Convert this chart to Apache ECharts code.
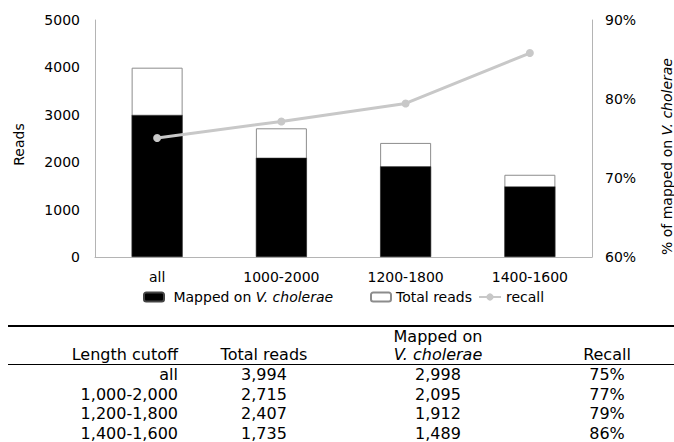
<!DOCTYPE html>
<html>
<head>
<meta charset="utf-8">
<script src="https://cdn.jsdelivr.net/npm/echarts@6/dist/echarts.min.js"></script>
<style>
  html, body { margin: 0; padding: 0; background: #fff; }
  #chart { position: absolute; left: 0; top: 0; width: 674px; height: 442px; }
  #table { position: absolute; left: 0; top: 0; width: 674px; height: 442px;
           font-family: "DejaVu Sans", sans-serif; font-size: 16px; color: #000; overflow: hidden; }
  #table .c { position: absolute; height: 20px; line-height: 20px; white-space: nowrap; }
  #table .rule { position: absolute; background: #000; }
</style>
</head>
<body>
<div id="chart"></div>
<div id="table"></div>
<script>
// Read-length cutoffs and read counts
const categories = ['all', '1000-2000', '1200-1800', '1400-1600'];
const tableCutoffs = ['all', '1,000-2,000', '1,200-1,800', '1,400-1,600'];
const totalReads = [3994, 2715, 2407, 1735];
const mappedReads = [2998, 2095, 1912, 1489];
// Recall (% of reads mapped on V. cholerae)
const recall = [75.06, 77.16, 79.44, 85.82];
const recallLabels = ['75%', '77%', '79%', '86%'];

const FONT = '"DejaVu Sans", sans-serif';
const AXIS_GRAY = '#b4b4b4';

const chart = echarts.init(document.getElementById('chart'), null, { renderer: 'svg' });

const legendBase = {
  orient: 'horizontal',
  top: 290,
  padding: 0,
  itemWidth: 20,
  itemHeight: 9,
  textStyle: { fontFamily: FONT, fontSize: 14, color: '#000' },
  selectedMode: false
};

chart.setOption({
  animation: false,
  textStyle: { fontFamily: FONT },
  grid: { left: 95, right: 82, top: 20, bottom: 185, containLabel: false, outerBoundsMode: 'none' },
  legend: [
    Object.assign({}, legendBase, {
      left: 143,
      data: ['Mapped on V. cholerae'],
      formatter: () => '{n| Mapped on }{i|V. cholerae}',
      textStyle: {
        fontFamily: FONT, fontSize: 14, color: '#000',
        rich: {
          n: { fontFamily: FONT, fontSize: 14, color: '#000' },
          i: { fontFamily: FONT, fontSize: 14, color: '#000', fontStyle: 'italic' }
        }
      }
    }),
    Object.assign({}, legendBase, { left: 370, data: ['Total reads'] }),
    Object.assign({}, legendBase, { left: 478, itemWidth: 22, data: ['recall'] })
  ],
  xAxis: {
    type: 'category',
    data: categories,
    axisLine: { lineStyle: { color: AXIS_GRAY, width: 1 } },
    axisTick: { show: false },
    axisLabel: { fontFamily: FONT, fontSize: 14, color: '#000', margin: 13 }
  },
  yAxis: [
    {
      type: 'value',
      min: 0, max: 5000, interval: 1000,
      name: 'Reads',
      nameLocation: 'middle',
      nameRotate: 90,
      nameGap: 69,
      nameTextStyle: { fontFamily: FONT, fontSize: 14, color: '#000', padding: [0, 12, 0, 0] },
      axisLine: { show: true, lineStyle: { color: AXIS_GRAY, width: 1 } },
      axisTick: { show: false },
      splitLine: { show: false },
      axisLabel: { fontFamily: FONT, fontSize: 14, color: '#000', margin: 15, formatter: v => String(v) }
    },
    {
      type: 'value',
      min: 60, max: 90, interval: 10,
      position: 'right',
      name: '% of mapped on {i|V. cholerae}',
      nameLocation: 'middle',
      nameRotate: 90,
      nameGap: 68,
      nameTextStyle: {
        fontFamily: FONT, fontSize: 14, color: '#000', padding: [0, 36, 0, 0],
        rich: { i: { fontFamily: FONT, fontSize: 14, color: '#000', fontStyle: 'italic' } }
      },
      axisLine: { show: true, lineStyle: { color: AXIS_GRAY, width: 1 } },
      axisTick: { show: false },
      splitLine: { show: false },
      axisLabel: { fontFamily: FONT, fontSize: 14, color: '#000', margin: 13, formatter: '{value}%' }
    }
  ],
  series: [
    {
      name: 'Total reads',
      type: 'bar',
      data: totalReads,
      barWidth: 51,
      itemStyle: { color: '#fff', borderColor: '#8c8c8c', borderWidth: 1 },
      z: 1
    },
    {
      name: 'Mapped on V. cholerae',
      type: 'bar',
      data: mappedReads,
      barWidth: 51,
      barGap: '-100%',
      itemStyle: { color: '#000', borderColor: '#444', borderWidth: 0.5 },
      z: 2
    },
    {
      name: 'recall',
      type: 'line',
      yAxisIndex: 1,
      data: recall,
      symbol: 'circle',
      symbolSize: 8,
      lineStyle: { color: '#c8c8c8', width: 3 },
      itemStyle: { color: '#c8c8c8' },
      z: 3
    }
  ]
});

// Summary table under the chart
const table = document.getElementById('table');
function rule(top, height) {
  const d = document.createElement('div');
  d.className = 'rule';
  d.style.left = '8px';
  d.style.width = '666px';
  d.style.top = top + 'px';
  d.style.height = height + 'px';
  table.appendChild(d);
}
function cell(text, x, align, cy, italic) {
  const d = document.createElement('div');
  d.className = 'c';
  d.textContent = text;
  d.style.top = (cy - 10) + 'px';
  d.style.width = '220px';
  if (align === 'right') {
    d.style.left = (x - 220) + 'px';
    d.style.textAlign = 'right';
  } else {
    d.style.left = (x - 110) + 'px';
    d.style.textAlign = 'center';
  }
  if (italic) d.style.fontStyle = 'italic';
  table.appendChild(d);
}
rule(325, 2);
rule(364, 1);

const colX = [178, 264, 438, 607];
const headerY = 355;
cell('Length cutoff', colX[0], 'right', headerY);
cell('Total reads', colX[1], 'center', headerY);
cell('Mapped on', colX[2], 'center', 337);
cell('V. cholerae', colX[2], 'center', headerY, true);
cell('Recall', colX[3], 'center', headerY);

const fmt = v => v.toLocaleString('en-US');
tableCutoffs.forEach((cut, i) => {
  const cy = 375 + i * 19.5;
  cell(cut, colX[0], 'right', cy);
  cell(fmt(totalReads[i]), colX[1], 'center', cy);
  cell(fmt(mappedReads[i]), colX[2], 'center', cy);
  cell(recallLabels[i], colX[3], 'center', cy);
});
</script>
</body>
</html>
